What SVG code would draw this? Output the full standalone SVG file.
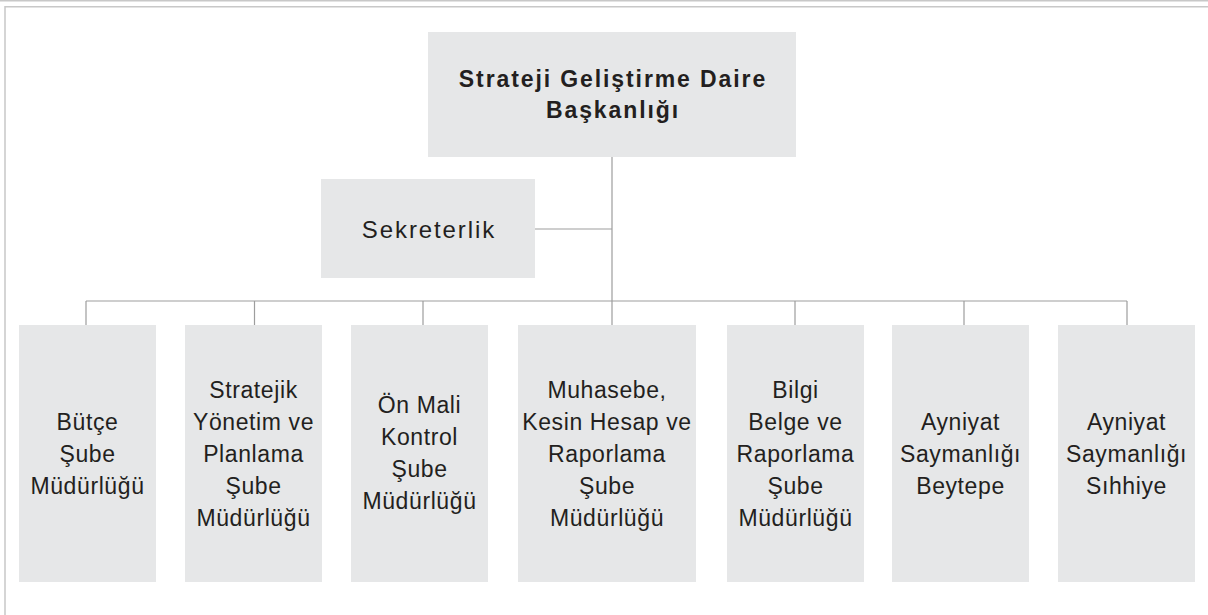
<svg xmlns="http://www.w3.org/2000/svg" width="1208" height="615" viewBox="0 0 1208 615">
<style>
.box{fill:#e6e7e8}
.t{font-family:"Liberation Sans",Arial,sans-serif;font-size:23px;fill:#231f20;text-anchor:middle;letter-spacing:0.6px}
.ts{font-family:"Liberation Sans",Arial,sans-serif;font-size:24px;fill:#231f20;text-anchor:middle;letter-spacing:1.9px}
.tb{font-family:"Liberation Sans",Arial,sans-serif;font-size:23px;font-weight:bold;fill:#231f20;text-anchor:middle;letter-spacing:1.9px}
.c{stroke:#9d9d9d;stroke-width:1.2;fill:none}
.f{stroke:#c8c8c8;stroke-width:1.5;fill:none}
</style>
<rect width="1208" height="615" fill="#fff"/>
<g id="frame">
<line class="f" x1="0" y1="0.8" x2="1208" y2="0.8"/>
<polyline class="f" points="1208,6.8 5,6.8 5,615"/>
</g>
<g id="connectors">
<line class="c" x1="612" y1="157" x2="612" y2="301"/>
<line class="c" x1="535" y1="229" x2="612" y2="229"/>
<line class="c" x1="86" y1="301" x2="1127" y2="301"/>
<line class="c" x1="86" y1="301" x2="86" y2="325"/>
<line class="c" x1="254.5" y1="301" x2="254.5" y2="325"/>
<line class="c" x1="423" y1="301" x2="423" y2="325"/>
<line class="c" x1="612" y1="301" x2="612" y2="325"/>
<line class="c" x1="795" y1="301" x2="795" y2="325"/>
<line class="c" x1="964" y1="301" x2="964" y2="325"/>
<line class="c" x1="1127" y1="301" x2="1127" y2="325"/>
</g>
<g id="n-top">
<rect class="box" x="428" y="32" width="368" height="125"/>
<text class="tb" x="613" y="87">Strateji Geliştirme Daire</text>
<text class="tb" x="613" y="118">Başkanlığı</text>
</g>
<g id="n-sekreterlik">
<rect class="box" x="321" y="179" width="214" height="99"/>
<text class="ts" x="429" y="238">Sekreterlik</text>
</g>
<g id="n-butce">
<rect class="box" x="19" y="325" width="137" height="257"/>
<text class="t" x="87.5" y="430">Bütçe</text>
<text class="t" x="87.5" y="462">Şube</text>
<text class="t" x="87.5" y="494">Müdürlüğü</text>
</g>
<g id="n-stratejik">
<rect class="box" x="185" y="325" width="137" height="257"/>
<text class="t" x="253.5" y="398">Stratejik</text>
<text class="t" x="253.5" y="430">Yönetim ve</text>
<text class="t" x="253.5" y="462">Planlama</text>
<text class="t" x="253.5" y="494">Şube</text>
<text class="t" x="253.5" y="526">Müdürlüğü</text>
</g>
<g id="n-onmali">
<rect class="box" x="351" y="325" width="137" height="257"/>
<text class="t" x="419.5" y="413">Ön Mali</text>
<text class="t" x="419.5" y="445">Kontrol</text>
<text class="t" x="419.5" y="477">Şube</text>
<text class="t" x="419.5" y="509">Müdürlüğü</text>
</g>
<g id="n-muhasebe">
<rect class="box" x="518" y="325" width="178" height="257"/>
<text class="t" x="607" y="398">Muhasebe,</text>
<text class="t" x="607" y="430">Kesin Hesap ve</text>
<text class="t" x="607" y="462">Raporlama</text>
<text class="t" x="607" y="494">Şube</text>
<text class="t" x="607" y="526">Müdürlüğü</text>
</g>
<g id="n-bilgi">
<rect class="box" x="727" y="325" width="137" height="257"/>
<text class="t" x="795.5" y="398">Bilgi</text>
<text class="t" x="795.5" y="430">Belge ve</text>
<text class="t" x="795.5" y="462">Raporlama</text>
<text class="t" x="795.5" y="494">Şube</text>
<text class="t" x="795.5" y="526">Müdürlüğü</text>
</g>
<g id="n-beytepe">
<rect class="box" x="892" y="325" width="137" height="257"/>
<text class="t" x="960.5" y="430">Ayniyat</text>
<text class="t" x="960.5" y="462">Saymanlığı</text>
<text class="t" x="960.5" y="494">Beytepe</text>
</g>
<g id="n-sihhiye">
<rect class="box" x="1058" y="325" width="137" height="257"/>
<text class="t" x="1126.5" y="430">Ayniyat</text>
<text class="t" x="1126.5" y="462">Saymanlığı</text>
<text class="t" x="1126.5" y="494">Sıhhiye</text>
</g>
</svg>
